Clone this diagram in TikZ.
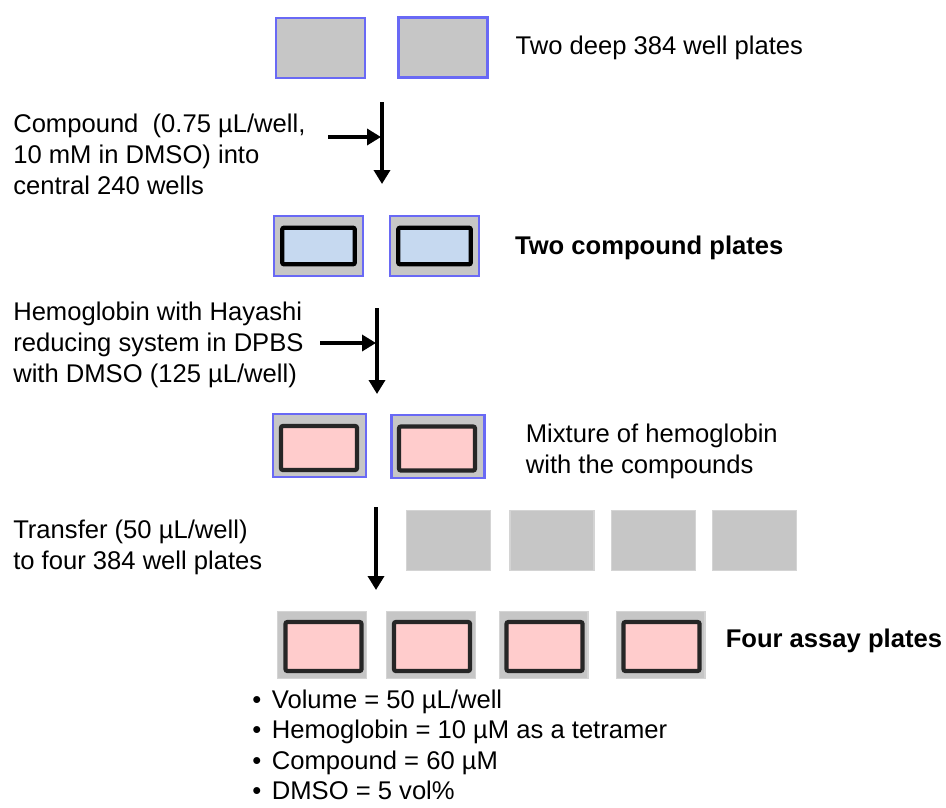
\documentclass[tikz,border=0pt]{standalone}
\usepackage{fontspec}
\setmainfont{Liberation Sans}
\usepackage{tikz}
\usetikzlibrary{positioning}
\usetikzlibrary{arrows.meta}

\definecolor{plategray}{RGB}{198,198,198}
\definecolor{plateblue}{RGB}{105,105,245}
\definecolor{edgegray}{RGB}{212,212,212}
\definecolor{wellblue}{RGB}{198,217,240}
\definecolor{wellpink}{RGB}{255,204,204}
\definecolor{welledge}{RGB}{38,38,38}

\begin{document}
\begin{tikzpicture}[x=0.75pt, y=-0.75pt,
                          deepplate/.style={rectangle, draw=plateblue, fill=plategray, line width=1.9pt, minimum width=66.5pt, minimum height=44.75pt, inner sep=0pt},
                          mixplate/.style={deepplate, minimum width=69.5pt, minimum height=47pt},
                          bareplate/.style={rectangle, draw=edgegray, fill=plategray, line width=1pt, minimum width=63pt, minimum height=45pt, inner sep=0pt},
                          assayplate/.style={bareplate, minimum width=66.5pt, minimum height=50pt},
                          bluewell/.style={rectangle, rounded corners=1.5pt, draw=black, fill=wellblue, line width=3.2pt, minimum width=54.5pt, minimum height=27.5pt, inner sep=0pt},
                          pinkwell/.style={bluewell, draw=welledge, fill=wellpink, minimum width=57pt, minimum height=33pt},
                          assaywell/.style={pinkwell, minimum height=36.75pt},
                          notetext/.style={align=left, inner sep=0pt, font={\fontsize{19.2}{23.3}\selectfont}},
                          headtext/.style={notetext, font={\fontsize{19.2}{23.3}\selectfont\bfseries}},
                          flow/.style={-{Triangle[width=12pt,length=10.5pt]}, line width=2.6pt},
                      ]
                      \useasboundingbox (0,0) rectangle (946,807);

                      % Nodes
                      \node[deepplate]        (deep_1)     at (320.5,48)        {};
                      \node[deepplate]        (deep_2)     at (443,47.5)        {};
                      \node[notetext]         (deep_text)  [right=20pt of deep_2]    {Two deep 384 well plates};

                      \node[deepplate]        (cmpd_1)     at (318.5,246)       {};
                      \node[bluewell]         (cmpd_in_1)  at (cmpd_1)          {};
                      \node[deepplate]        (cmpd_2)     at (434.5,246)       {};
                      \node[bluewell]         (cmpd_in_2)  at (cmpd_2)          {};
                      \node[headtext]         (cmpd_text)  [right=26pt of cmpd_2, yshift=-1.5pt]    {Two compound plates};

                      \node[mixplate]         (mix_1)      at (319.5,445.5)     {};
                      \node[pinkwell]         (mix_in_1)   at (319,448)         {};
                      \node[mixplate]         (mix_2)      at (438,446.5)       {};
                      \node[pinkwell]         (mix_in_2)   at (437,448.5)       {};
                      \node[notetext]         (mix_text)   [right=30pt of mix_2, yshift=-4pt]    {Mixture of hemoglobin\\with the compounds};

                      \node[bareplate]        (new_1)      at (448.5,540.5)     {};
                      \node[bareplate]        (new_2)      at (552,540.5)       {};
                      \node[bareplate]        (new_3)      at (653.5,540.5)     {};
                      \node[bareplate]        (new_4)      at (754.5,540.5)     {};

                      \node[assayplate]       (assay_1)    at (322,645)         {};
                      \node[assaywell]        (assay_in_1) at (323.5,646.5)     {};
                      \node[assayplate]       (assay_2)    at (431,645)         {};
                      \node[assaywell]        (assay_in_2) at (432,646.5)       {};
                      \node[assayplate]       (assay_3)    at (543.5,645)       {};
                      \node[assaywell]        (assay_in_3) at (544.5,646.5)     {};
                      \node[assayplate]       (assay_4)    at (660.5,645)       {};
                      \node[assaywell]        (assay_in_4) at (661.5,646.5)     {};
                      \node[headtext]         (assay_text) [right=15pt of assay_4, yshift=3pt]    {Four assay plates};

                      \node[notetext, anchor=west]  (cmpd_note)     at (13,154)   {Compound\ \ (0.75 µL/well,\\10 mM in DMSO) into\\central 240 wells};
                      \node[notetext, anchor=west]  (hemo_note)     at (13,345)   {Hemoglobin with Hayashi\\reducing system in DPBS\\with DMSO (125 µL/well)};
                      \node[notetext, anchor=west]  (transfer_note) at (13,547)   {Transfer (50 µL/well)\\to four 384 well plates};
                      \node[notetext, anchor=west, font={\fontsize{19.2}{22.9}\selectfont}]  (summary)       at (252,745)  {•\hspace{8pt}Volume = 50 µL/well\\•\hspace{8pt}Hemoglobin = 10 µM as a tetramer\\•\hspace{8pt}Compound = 60 µM\\•\hspace{8pt}DMSO = 5 vol\%};

                      \coordinate (step_1_top)  at (382,102);
                      \coordinate (step_1_end)  at (382,184);
                      \coordinate (step_1_in)   at (328,137);
                      \coordinate (step_1_join) at (381,137);
                      \coordinate (step_2_top)  at (377,308);
                      \coordinate (step_2_end)  at (377,394);
                      \coordinate (step_2_in)   at (320,343);
                      \coordinate (step_2_join) at (376,343);
                      \coordinate (step_3_top)  at (376,507);
                      \coordinate (step_3_end)  at (376,590);

                      %Lines
                      \draw[flow] (step_1_top) -- (step_1_end);
                      \draw[flow] (step_1_in) -- (step_1_join);
                      \draw[flow] (step_2_top) -- (step_2_end);
                      \draw[flow] (step_2_in) -- (step_2_join);
                      \draw[flow] (step_3_top) -- (step_3_end);
                  \end{tikzpicture}
\end{document}
